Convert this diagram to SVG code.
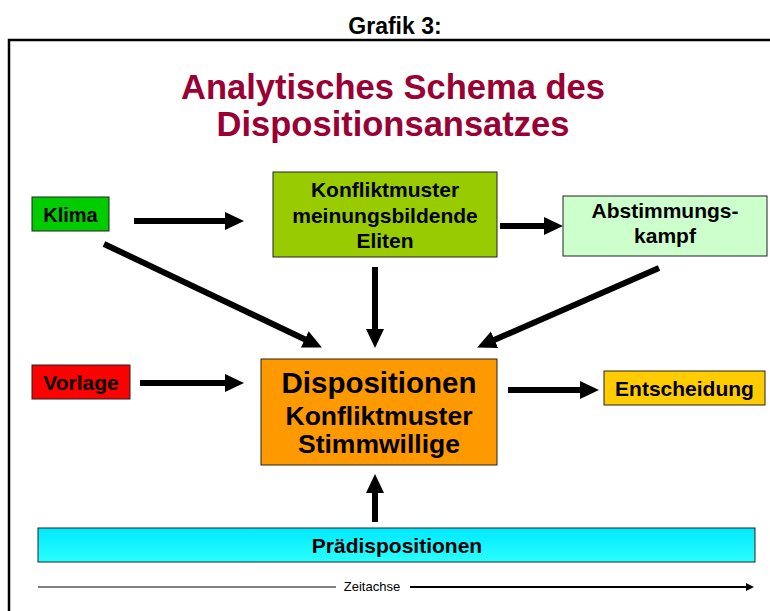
<svg xmlns="http://www.w3.org/2000/svg" width="770" height="611" viewBox="0 0 770 611">
<defs>
<style>
.box{stroke:#222;stroke-width:1}
.t{font-family:"Liberation Sans",Arial,sans-serif;font-weight:bold;fill:#000;text-anchor:middle}
.a{stroke:#000;stroke-width:6;fill:none}
</style>
<marker id="ah" markerUnits="userSpaceOnUse" markerWidth="20" markerHeight="20" viewBox="0 0 20 20" refX="8" refY="9" orient="auto">
<path d="M0,0 L19,9 L0,18 z" fill="#000"/>
</marker>
<marker id="sm" markerUnits="userSpaceOnUse" markerWidth="8" markerHeight="8" viewBox="0 0 8 8" refX="4" refY="4" orient="auto">
<path d="M0,0 L8,4 L0,8 z" fill="#000"/>
</marker>
<linearGradient id="cy" x1="0" y1="0" x2="0" y2="1">
<stop offset="0" stop-color="#00e8ff"/>
<stop offset="1" stop-color="#2affff"/>
</linearGradient>
</defs>
<rect width="770" height="611" fill="#fff"/>
<text x="395" y="34" class="t" font-size="23">Grafik 3:</text>
<path d="M9,611 V40 H770" fill="none" stroke="#000" stroke-width="2.5"/>
<g id="title">
<text x="393" y="99" class="t" font-size="34.5" style="fill:#990033">Analytisches Schema des</text>
<text x="393" y="136" class="t" font-size="34.5" style="fill:#990033">Dispositionsansatzes</text>
</g>
<g id="connectors">
<line class="a" x1="134" y1="221" x2="233" y2="221" marker-end="url(#ah)"/>
<line class="a" x1="500" y1="226" x2="552" y2="226" marker-end="url(#ah)"/>
<line class="a" x1="104" y1="244" x2="312" y2="342.7" marker-end="url(#ah)"/>
<line class="a" x1="375" y1="267" x2="375" y2="337" marker-end="url(#ah)"/>
<line class="a" x1="659" y1="268" x2="487.2" y2="343" marker-end="url(#ah)"/>
<line class="a" x1="140" y1="383" x2="233" y2="383" marker-end="url(#ah)"/>
<line class="a" x1="508" y1="390" x2="588" y2="390" marker-end="url(#ah)"/>
<line class="a" x1="375" y1="522" x2="375" y2="485" marker-end="url(#ah)"/>
</g>
<g id="klima">
<rect class="box" x="32" y="197" width="77" height="34" fill="#00cc00"/>
<text class="t" x="70.5" y="222" font-size="20">Klima</text>
</g>
<g id="konflikt-eliten">
<rect class="box" x="273" y="172" width="224" height="85" fill="#99cc00"/>
<text class="t" x="385" y="197" font-size="21">Konfliktmuster</text>
<text class="t" x="385" y="223" font-size="21">meinungsbildende</text>
<text class="t" x="385" y="248" font-size="21">Eliten</text>
</g>
<g id="abstimmungskampf">
<rect class="box" x="563" y="196" width="204" height="60" fill="#ccffcc"/>
<text class="t" x="665" y="218" font-size="21">Abstimmungs-</text>
<text class="t" x="665" y="243" font-size="21">kampf</text>
</g>
<g id="vorlage">
<rect class="box" x="32" y="365" width="98" height="34" fill="#ff0000"/>
<text class="t" x="81" y="390" font-size="21">Vorlage</text>
</g>
<g id="dispositionen">
<rect class="box" x="261" y="359" width="236" height="106" fill="#ff9900"/>
<text class="t" x="379" y="393" font-size="29.5">Dispositionen</text>
<text class="t" x="379" y="425" font-size="26.5">Konfliktmuster</text>
<text class="t" x="379" y="453" font-size="26.5">Stimmwillige</text>
</g>
<g id="entscheidung">
<rect class="box" x="604" y="371" width="161" height="34" fill="#ffcc00"/>
<text class="t" x="684.5" y="396" font-size="21">Entscheidung</text>
</g>
<g id="praedispositionen">
<rect class="box" x="38" y="528" width="717" height="34" fill="url(#cy)"/>
<text class="t" x="397" y="553" font-size="21">Prädispositionen</text>
</g>
<g id="zeitachse">
<line x1="38" y1="587" x2="336" y2="587" stroke="#000" stroke-width="1"/>
<text x="372" y="591" font-family="'Liberation Sans Narrow','Liberation Sans',sans-serif" font-size="13" text-anchor="middle" fill="#000">Zeitachse</text>
<line x1="410" y1="587" x2="750" y2="587" stroke="#000" stroke-width="2" marker-end="url(#sm)"/>
</g>
</svg>
